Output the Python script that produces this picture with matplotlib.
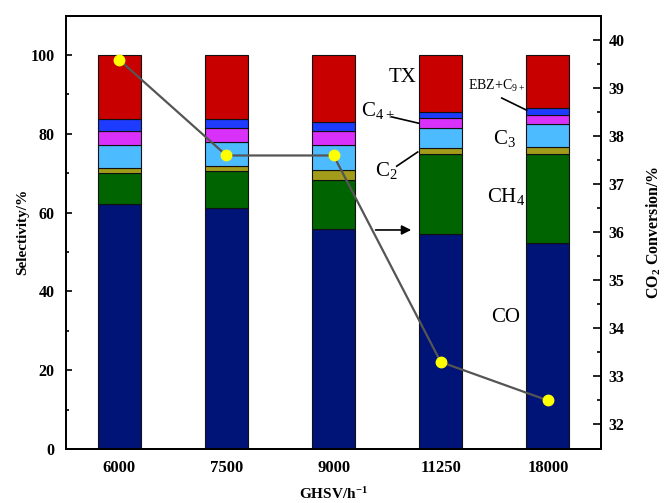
import matplotlib.pyplot as plt
import numpy as np

plt.rcParams['font.family'] = ['Liberation Serif', 'DejaVu Serif']
plt.rcParams['mathtext.fontset'] = 'custom'
plt.rcParams['mathtext.rm'] = 'Liberation Serif'
plt.rcParams['mathtext.bf'] = 'Liberation Serif:bold'
plt.rcParams['mathtext.default'] = 'rm'

ghsv = ['6000', '7500', '9000', '11250', '18000']
co = [62.2, 61.1, 55.9, 54.5, 52.2]
ch4 = [7.8, 9.5, 12.5, 20.4, 22.6]
c2 = [1.4, 1.3, 2.3, 1.4, 1.8]
c3 = [5.7, 6.1, 6.4, 5.3, 5.8]
c4 = [3.5, 3.5, 3.5, 2.5, 2.3]
ebz = [3.2, 2.3, 2.3, 1.5, 1.9]
tx = [16.2, 16.2, 17.1, 14.4, 13.4]
conv = [39.58, 37.59, 37.59, 33.29, 32.49]

series = [co, ch4, c2, c3, c4, ebz, tx]
colors = ['#001478', '#006400', '#A39C1A', '#4DBBFF', '#D930FA', '#1E3CFF', '#C80000']

fig = plt.figure(figsize=(6.65, 5.03), dpi=100)
ax = fig.add_axes([0.0988, 0.1074, 0.8057, 0.8614])
x = np.arange(len(ghsv))
bottom = np.zeros(len(ghsv))
for vals, c in zip(series, colors):
    ax.bar(x, vals, 0.4, bottom=bottom, color=c, edgecolor='#111111', linewidth=0.8)
    bottom += np.array(vals)

ax.set_xlim(-0.5, 4.5)
ax.set_ylim(0, 110)
ax.set_yticks([0, 20, 40, 60, 80, 100])
ax.set_yticks([10, 30, 50, 70, 90], minor=True)
ax.set_xticks(x)
ax.set_xticklabels(ghsv, fontweight='bold', fontsize=12)
ax.tick_params(axis='x', length=0, pad=8)
ax.tick_params(axis='y', which='major', direction='in', length=4, width=1.2, labelsize=11.5, pad=8)
ax.tick_params(axis='y', which='minor', direction='in', length=2.5, width=1.2)
for lab in ax.get_yticklabels():
    lab.set_fontweight('bold')
ax.set_ylabel('Selectivity/%', fontweight='bold', fontsize=11)
ax.yaxis.set_label_coords(-0.068, 0.5)
ax.set_xlabel(r'GHSV/h$^{\mathbf{-1}}$', fontweight='bold', fontsize=11, labelpad=7)
for s in ax.spines.values():
    s.set_linewidth(1.3)

ax2 = ax.twinx()
ax2.plot(x, conv, color='#555555', lw=1.6, marker='o', ms=7.5,
         markerfacecolor='#FFFF00', markeredgecolor='#FFFF00', zorder=5)
ax2.set_ylim(31.48, 40.5)
ax2.set_yticks(range(32, 41))
ax2.set_yticks(np.arange(32.5, 40.5, 1), minor=True)
ax2.tick_params(axis='y', which='major', direction='in', length=6, width=1.2, labelsize=11.5, pad=5)
ax2.tick_params(axis='y', which='minor', direction='in', length=3, width=1.2)
for lab in ax2.get_yticklabels():
    lab.set_fontweight('bold')
ax2.set_ylabel(r'CO$_\mathbf{2}$ Conversion/%', fontweight='bold', fontsize=11.5,
               rotation=90)
ax2.yaxis.set_label_coords(1.08, 0.5)
for s in ax2.spines.values():
    s.set_linewidth(1.3)

# labels for the stacked parts
ax.text(2.645, 94.2, 'TX', fontsize=15, ha='center', va='center')
ax.text(2.41, 86.0, r'C$_{4+}$', fontsize=15, ha='center', va='center')
ax.plot([2.543, 2.794], [84.3, 82.7], color='black', lw=1.2)
ax.text(2.496, 70.8, r'C$_2$', fontsize=15, ha='center', va='center')
ax.plot([2.589, 2.785], [71.8, 75.4], color='black', lw=1.2)
ax.text(3.522, 92.1, r'EBZ+C$_{9+}$', fontsize=10, ha='center', va='center')
ax.plot([3.569, 3.802], [89.1, 86.0], color='black', lw=1.2)
ax.text(3.596, 78.8, r'C$_3$', fontsize=15, ha='center', va='center')
ax.text(3.606, 64.0, r'CH$_4$', fontsize=15, ha='center', va='center')
ax.text(3.606, 33.5, 'CO', fontsize=15, ha='center', va='center')
ax.annotate('', xy=(2.75, 55.6), xytext=(2.366, 55.6),
            arrowprops=dict(arrowstyle='-|>', color='black', lw=1.2, mutation_scale=14))

fig.savefig('out.png', dpi=100)
